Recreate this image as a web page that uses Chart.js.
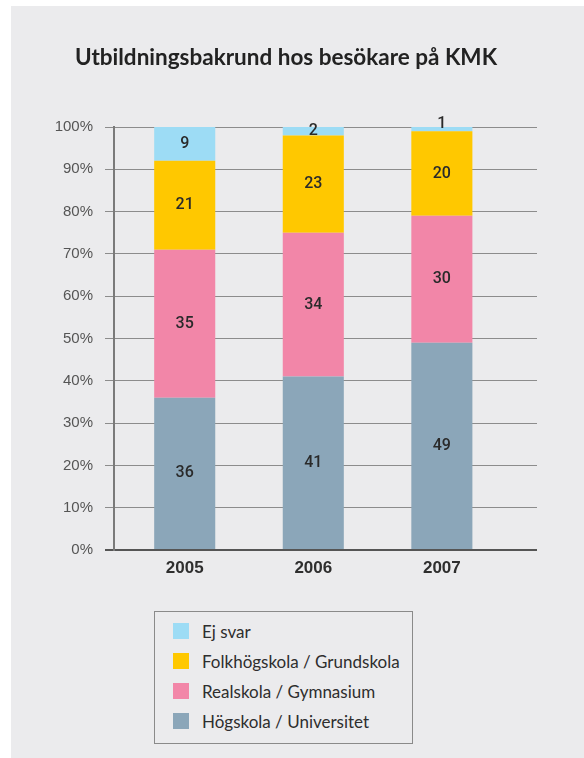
<!DOCTYPE html>
<html>
<head>
<meta charset="utf-8">
<script src="https://cdn.jsdelivr.net/npm/chart.js@4"></script>
<style>
  body { margin: 0; background: #fff; width: 584px; height: 758px; position: relative; overflow: hidden; }
  #panel { position: absolute; left: 11px; top: 6px; width: 573px; height: 752px; background: #ebebed; }
  #wrap { position: absolute; left: 35px; top: 0; width: 502px; height: 600px; }
  #legend {
    position: absolute; left: 154px; top: 611px; width: 259px; height: 133px;
    box-sizing: border-box; border: 1px solid #8a8a8a; padding-top: 4px;
    font-family: Lato, sans-serif; font-size: 17px; color: #2e2e2e; white-space: nowrap;
  }
  .item { height: 30px; display: flex; align-items: center; }
  .sw { width: 16px; height: 16px; margin-left: 18px; margin-right: 13px; }
</style>
</head>
<body>
<div id="panel"></div>
<div id="wrap"><canvas id="chart" width="502" height="600"></canvas></div>
<div id="legend"></div>
<script>
// Chart data
const years = ['2005', '2006', '2007'];
const hogskola = [36, 41, 49];      // Högskola / Universitet
const realskola = [35, 34, 30];     // Realskola / Gymnasium
const folkhogskola = [21, 23, 20];  // Folkhögskola / Grundskola
const ejSvar = [9, 2, 1];           // Ej svar
const yTicks = [0, 10, 20, 30, 40, 50, 60, 70, 80, 90, 100];

// turn a value list into {x, y} points on the year index
const points = values => values.map((v, i) => ({ x: i, y: v }));

// write the segment value in the middle of each bar piece
const segmentLabels = {
  id: 'segmentLabels',
  afterDatasetsDraw(chart) {
    const ctx = chart.ctx;
    const top = chart.chartArea.top;
    ctx.save();
    ctx.font = '500 16px Roboto, sans-serif';
    ctx.fillStyle = '#2a2a2a';
    ctx.textAlign = 'center';
    ctx.textBaseline = 'middle';
    chart.data.datasets.forEach((ds, di) => {
      chart.getDatasetMeta(di).data.forEach((bar, i) => {
        const y1 = Math.max(bar.y, top);
        const h = bar.base - y1;
        const y = h < 6 ? y1 - 3 : (y1 + bar.base) / 2;
        ctx.fillText(ds.data[i].y, bar.x, y);
      });
    });
    ctx.restore();
  }
};

const ctx = document.getElementById('chart').getContext('2d');
const chart = new Chart(ctx, {
  type: 'bar',
  data: {
    datasets: [
      { label: 'Högskola / Universitet', data: points(hogskola), backgroundColor: '#8ba6b9' },
      { label: 'Realskola / Gymnasium', data: points(realskola), backgroundColor: '#f286a8' },
      { label: 'Folkhögskola / Grundskola', data: points(folkhogskola), backgroundColor: '#ffc800' },
      { label: 'Ej svar', data: points(ejSvar), backgroundColor: '#9ddcf5' }
    ]
  },
  options: {
    responsive: false,
    animation: false,
    categoryPercentage: 1,
    barPercentage: 0.475,
    layout: { padding: 0 },
    plugins: {
      legend: { display: false },
      tooltip: { enabled: false },
      title: {
        display: true,
        text: 'Utbildningsbakrund hos besökare på KMK',
        color: '#222',
        font: { family: 'Lato, sans-serif', size: 22.5, weight: 'bold' },
        padding: { top: 44, bottom: 56 }
      }
    },
    scales: {
      x: {
        type: 'linear',
        stacked: true,
        offset: false,
        min: -0.55,
        max: 2.74,
        grid: { display: false, drawTicks: false, offset: false },
        border: { display: false },
        afterBuildTicks: scale => { scale.ticks = years.map((y, i) => ({ value: i })); },
        afterFit: scale => { scale.height = 50; },
        ticks: {
          padding: 8,
          color: '#2e2e2e',
          font: { family: '"Liberation Sans", sans-serif', size: 17, weight: 'bold' },
          callback: v => years[v]
        }
      },
      y: {
        stacked: true,
        min: 0,
        max: 100,
        afterBuildTicks: scale => { scale.ticks = yTicks.map(v => ({ value: v })); },
        afterFit: scale => { scale.width = 79; },
        grid: {
          color: c => c.tick && c.tick.value === 0 ? '#555' : '#8c8c8c',
          tickColor: c => c.tick && c.tick.value === 0 ? '#555' : '#8c8c8c',
          lineWidth: c => c.tick && c.tick.value === 0 ? 2 : 1,
          tickLength: 9
        },
        border: { color: '#7a7a7a', width: 2 },
        ticks: {
          padding: 12,
          color: '#555',
          font: { family: '"Liberation Sans", sans-serif', size: 15 },
          callback: v => v + '%'
        }
      }
    }
  },
  plugins: [segmentLabels]
});

// legend box, top item is the top of the stack
const legend = document.getElementById('legend');
chart.data.datasets.slice().reverse().forEach(ds => {
  const item = document.createElement('div');
  item.className = 'item';
  item.innerHTML = `<span class="sw" style="background:${ds.backgroundColor}"></span><span>${ds.label}</span>`;
  legend.appendChild(item);
});
</script>
</body>
</html>
